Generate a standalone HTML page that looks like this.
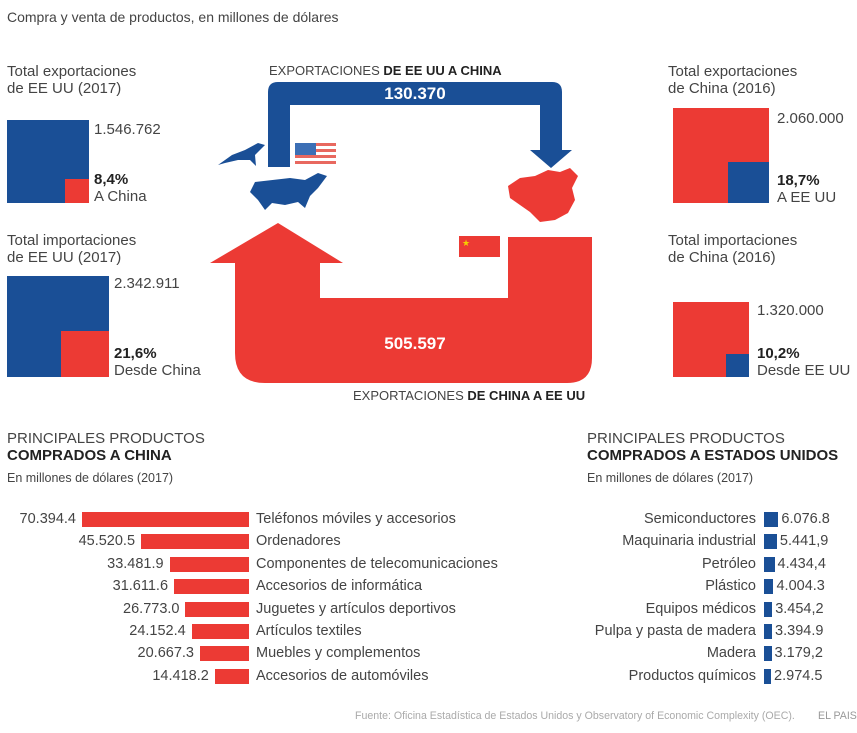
<!DOCTYPE html>
<html><head><meta charset="utf-8">
<style>
body{margin:0;background:#fff;width:857px;height:733px;overflow:hidden;position:relative;font-family:"Liberation Sans",sans-serif;color:#444}
.t{position:absolute;white-space:nowrap;font-size:15px;line-height:17px}
.b{font-weight:bold;color:#222}
.s{font-size:12.5px}
.c{font-size:14.5px}
</style></head><body>
<div class="t" style="left:7px;top:9px;font-size:14px">Compra y venta de productos, en millones de dólares</div>

<svg width="857" height="733" style="position:absolute;left:0;top:0">
  <rect x="7" y="120" width="82" height="83" fill="#1a4f96"/>
  <rect x="65" y="179" width="24" height="24" fill="#ec3a34"/>
  <rect x="7" y="276" width="102" height="101" fill="#1a4f96"/>
  <rect x="61" y="331" width="48" height="46" fill="#ec3a34"/>
  <rect x="673" y="108" width="96" height="95" fill="#ec3a34"/>
  <rect x="728" y="162" width="41" height="41" fill="#1a4f96"/>
  <rect x="673" y="302" width="76" height="75" fill="#ec3a34"/>
  <rect x="726" y="354" width="23" height="23" fill="#1a4f96"/>
  <path d="M268 167 L268 92 Q268 82 278 82 L552 82 Q562 82 562 92 L562 150 L572 150 L551 168 L530 150 L540 150 L540 105 L290 105 L290 167 Z" fill="#1a4f96"/>
  <path d="M508 237 L592 237 L592 358 Q592 383 567 383 L265 383 Q235 383 235 353 L235 263 L210 263 L278 223 L343 263 L320 263 L320 298 L508 298 Z" fill="#ec3a34"/>
  <g>
    <rect x="295" y="143" width="41" height="22" fill="#fff"/>
    <rect x="295" y="143" width="41" height="3" fill="#e8685f"/>
    <rect x="295" y="149" width="41" height="3" fill="#e8685f"/>
    <rect x="295" y="155" width="41" height="3" fill="#e8685f"/>
    <rect x="295" y="161" width="41" height="3" fill="#e8685f"/>
    <rect x="295" y="143" width="21" height="12" fill="#3c6fb5"/>
  </g>
  <g>
    <rect x="459" y="236" width="41" height="21" fill="#ec3a34"/>
    <text x="462" y="246" font-size="9" fill="#f5d000">★</text>
  </g>
  <path d="M255 182 L290 178 L305 180 L318 173 L327 176 L318 188 L310 196 L305 208 L298 202 L285 205 L272 203 L265 210 L258 200 L250 192 Z" fill="#1a4f96"/>
  <path d="M218 165 L232 155 L245 150 L258 143 L265 145 L255 155 L256 166 L250 160 L238 160 L225 163 Z" fill="#1a4f96"/>
  <path d="M508 186 L520 178 L535 176 L548 170 L560 172 L570 168 L578 176 L572 188 L575 200 L568 213 L555 220 L540 222 L530 212 L520 205 L510 198 Z" fill="#ec3a34"/>
  <text x="415" y="99" text-anchor="middle" font-family="Liberation Sans" font-weight="bold" font-size="17" fill="#fff">130.370</text>
  <text x="415" y="349" text-anchor="middle" font-family="Liberation Sans" font-weight="bold" font-size="17" fill="#fff">505.597</text>
</svg>

<div class="t" style="left:269px;top:62px;font-size:13px">EXPORTACIONES <b class="b">DE EE UU A CHINA</b></div>
<div class="t" style="left:353px;top:387px;font-size:13px">EXPORTACIONES <b class="b">DE CHINA A EE UU</b></div>

<div class="t" style="left:7px;top:63px">Total exportaciones<br>de EE UU (2017)</div>
<div class="t" style="left:94px;top:121px">1.546.762</div>
<div class="t" style="left:94px;top:171px"><b class="b">8,4%</b><br>A China</div>
<div class="t" style="left:7px;top:232px">Total importaciones<br>de EE UU (2017)</div>
<div class="t" style="left:114px;top:275px">2.342.911</div>
<div class="t" style="left:114px;top:345px"><b class="b">21,6%</b><br>Desde China</div>

<div class="t" style="left:668px;top:63px">Total exportaciones<br>de China (2016)</div>
<div class="t" style="left:777px;top:110px">2.060.000</div>
<div class="t" style="left:777px;top:172px"><b class="b">18,7%</b><br>A EE UU</div>
<div class="t" style="left:668px;top:232px">Total importaciones<br>de China (2016)</div>
<div class="t" style="left:757px;top:302px">1.320.000</div>
<div class="t" style="left:757px;top:345px"><b class="b">10,2%</b><br>Desde EE UU</div>

<div class="t" style="left:7px;top:430px">PRINCIPALES PRODUCTOS<br><b class="b">COMPRADOS A CHINA</b></div>
<div class="t s" style="left:7px;top:470px">En millones de dólares (2017)</div>
<div class="t" style="left:587px;top:430px">PRINCIPALES PRODUCTOS<br><b class="b">COMPRADOS A ESTADOS UNIDOS</b></div>
<div class="t s" style="left:587px;top:470px">En millones de dólares (2017)</div>

<div id="charts"></div>

<div class="t" style="left:355px;top:708px;font-size:10.6px;color:#aaa">Fuente: Oficina Estadística de Estados Unidos y Observatory of Economic Complexity (OEC).</div>
<div class="t" style="left:818px;top:708px;font-size:10.6px;color:#999">EL PAIS</div>

<script>
const leftCategories = ["Teléfonos móviles y accesorios","Ordenadores","Componentes de telecomunicaciones","Accesorios de informática","Juguetes y artículos deportivos","Artículos textiles","Muebles y complementos","Accesorios de automóviles"];
const leftValues = [70394.4,45520.5,33481.9,31611.6,26773.0,24152.4,20667.3,14418.2];
const leftLabels = ["70.394.4","45.520.5","33.481.9","31.611.6","26.773.0","24.152.4","20.667.3","14.418.2"];
const rightCategories = ["Semiconductores","Maquinaria industrial","Petróleo","Plástico","Equipos médicos","Pulpa y pasta de madera","Madera","Productos químicos"];
const rightValues = [6076.8,5441.9,4434.4,4004.3,3454.2,3394.9,3179.2,2974.5];
const rightLabels = ["6.076.8","5.441,9","4.434,4","4.004.3","3.454,2","3.394.9","3.179,2","2.974.5"];

const scale = 167/70394;
function xLen(v){return v*scale;}
function yRow(i){return 511 + i*22.4;}
const root = document.getElementById('charts');
function mk(style, text){
  const d=document.createElement('div');
  d.className='t c';
  d.style.cssText=style;
  if(text!==undefined) d.textContent=text;
  root.appendChild(d);
  return d;
}
leftValues.forEach((v,i)=>{
  const w=xLen(v), y=yRow(i);
  const bar=mk(`left:${249-w}px;top:${y+1}px;width:${w}px;height:15px;background:#ec3a34`);
  
  
  const val=mk(`right:${857-(249-w)+6}px;top:${y}px`, leftLabels[i]);
  
  
  const cat=mk(`left:256px;top:${y}px`, leftCategories[i]);
  
  
});
rightValues.forEach((v,i)=>{
  const w=xLen(v), y=yRow(i);
  const bar=mk(`left:764px;top:${y+1}px;width:${w}px;height:15px;background:#1a4f96`);
  
  
  const cat=mk(`right:${857-756}px;top:${y}px`, rightCategories[i]);
  
  
  const val=mk(`left:${764+w+3}px;top:${y}px`, rightLabels[i]);
  
  
});
</script>
</body></html>
